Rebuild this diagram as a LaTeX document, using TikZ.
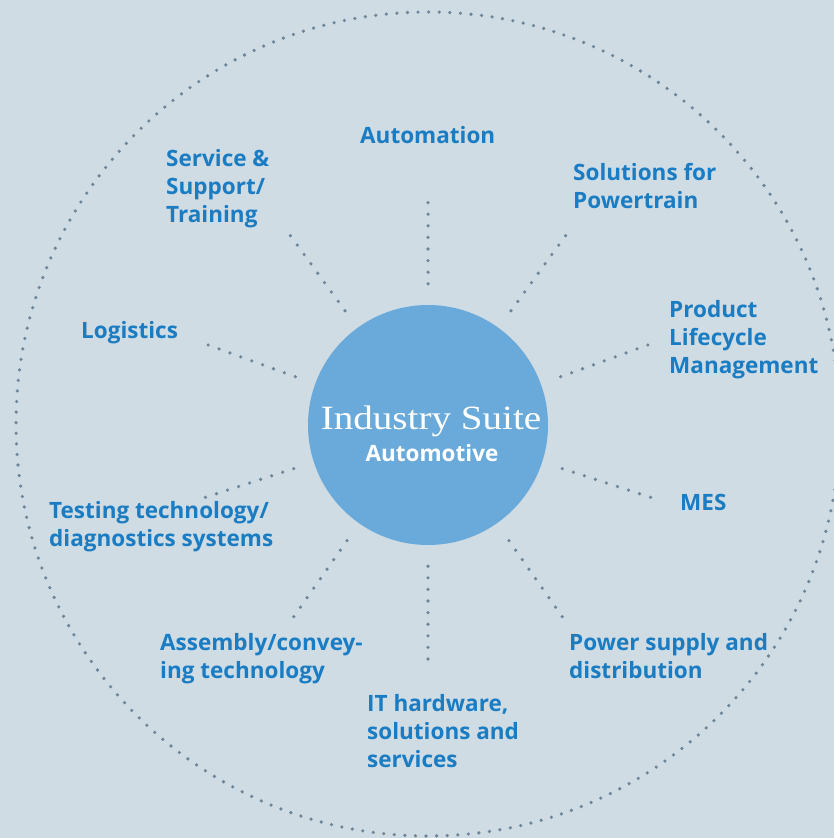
\documentclass[tikz,border=0pt]{standalone}
\usepackage{fontspec}
\setmainfont{Open Sans}
\newfontfamily\suiteserif{Liberation Serif}[FakeStretch=1.15]
\usetikzlibrary{calc}
\definecolor{bg}{RGB}{208,220,228}
\definecolor{hubblue}{RGB}{106,170,219}
\definecolor{txtblue}{RGB}{26,124,194}
\definecolor{dotgrey}{RGB}{110,134,152}
\begin{document}
\begin{tikzpicture}[x=1pt,y=-1pt,
  hub/.style={circle, fill=hubblue, minimum size=240pt, inner sep=0pt},
  ring/.style={circle, draw=dotgrey, line width=3.6pt, line cap=round, dash pattern=on 0pt off 10.6pt, minimum size=824pt, inner sep=0pt},
  spoke/.style={draw=dotgrey, line width=3.6pt, line cap=round, dash pattern=on 0pt off 11.6pt, shorten <=21pt},
  lab/.style={font=\fontsize{22.5}{27.8}\selectfont\bfseries, text=txtblue, align=left, inner sep=0pt, anchor=base west}]
\fill[bg] (0,0) rectangle (834,838);
\useasboundingbox (0,0) rectangle (834,838);
\node[ring] (ring) at (428,424) {};
\node[hub] (hub) at (428,425) {};
\node[font=\suiteserif\fontsize{34}{34}\selectfont, text=white, anchor=base, inner sep=0pt] (t1) at (431,429) {Industry Suite};
\node[font=\fontsize{22.5}{24}\selectfont\bfseries, text=white, anchor=base, inner sep=0pt] (t2) at (432,461) {Automotive};
% labels (base anchor = baseline of last line)
\node[lab] (auto) at (360,143) {Automation};
\node[lab] (serv) at (166,222) {Service \&\\Support/\\Training};
\node[lab] (sol) at (573,208) {Solutions for\\Powertrain};
\node[lab] (plm) at (669,373) {Product\\Lifecycle\\Management};
\node[lab] (log) at (81,338) {Logistics};
\node[lab] (mes) at (680,510) {MES};
\node[lab] (test) at (49,546) {Testing technology/\\diagnostics systems};
\node[lab] (asm) at (160,678) {Assembly/convey-\\ing technology};
\node[lab] (it) at (367,767) {IT hardware,\\solutions and\\services};
\node[lab] (pow) at (569,678) {Power supply and\\distribution};
% spokes
\foreach \a/\n in {90/auto,54/sol,20/plm,-18/mes,-55/pow,-90/it,-125/asm,-162/test,160/log,126/serv}{
  \coordinate (e\n) at ($(hub.center)+(\a:234pt)$);
  \draw[spoke] (hub.\a) -- (e\n);
}
\end{tikzpicture}
\end{document}
